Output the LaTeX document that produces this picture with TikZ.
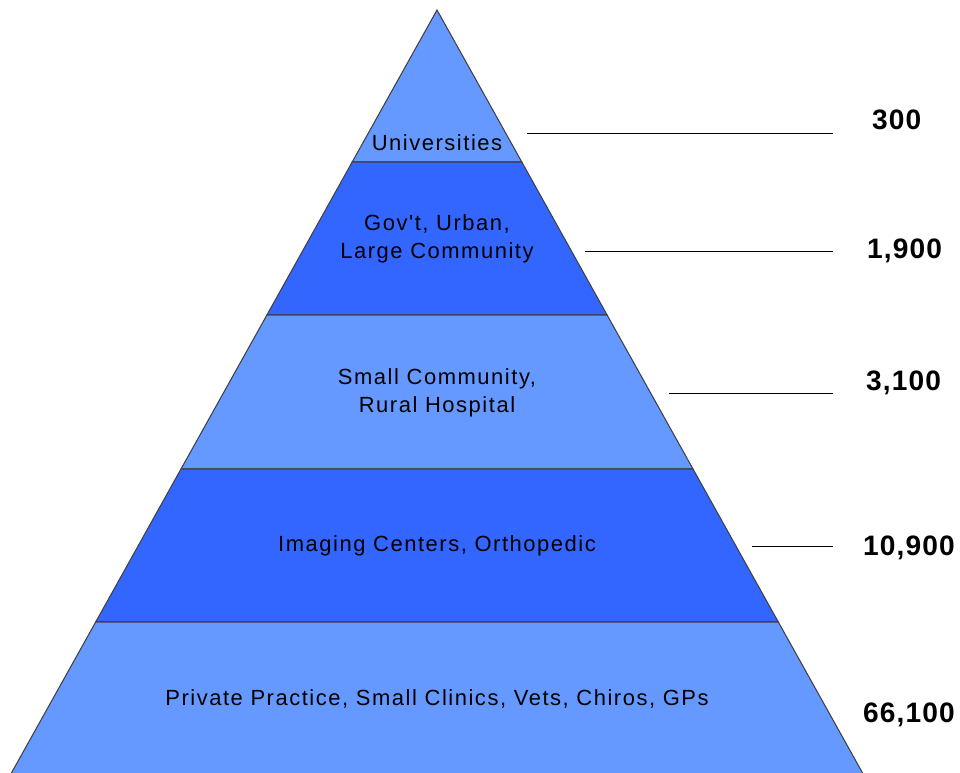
\documentclass[tikz,border=0pt]{standalone}
\usepackage{fontspec}
\setmainfont{Liberation Sans}
\newfontfamily\layerfont[LetterSpace=7]{Liberation Sans}
\newfontfamily\countfont[LetterSpace=4]{Liberation Sans}
\usepackage{tikz}
\definecolor{lightlayer}{HTML}{6699FF}
\definecolor{darklayer}{HTML}{3366FF}

\begin{document}
\begin{tikzpicture}[x=0.02cm, y=-0.02cm]
\tikzstyle{layer} = [draw=black!75, line width=0.6pt]
\tikzstyle{label} = [align=center, font=\layerfont\fontsize{12.5}{16}\selectfont]
\tikzstyle{count} = [anchor=west, font=\countfont\fontsize{16}{19}\selectfont\bfseries]
\tikzstyle{leader} = [draw, line width=0.5pt]

\useasboundingbox (0,0) rectangle (960,772);
\clip (0,0) rectangle (960,772);

    % the layers, from the top down
    \filldraw [layer, fill=lightlayer] (437,10) -- (521.8,162) -- (352.2,162) -- cycle;
    \filldraw [layer, fill=darklayer] (352.2,162) -- (521.8,162) -- (607.1,315) -- (266.9,315) -- cycle;
    \filldraw [layer, fill=lightlayer] (266.9,315) -- (607.1,315) -- (693,469) -- (181,469) -- cycle;
    \filldraw [layer, fill=darklayer] (181,469) -- (693,469) -- (778.3,622) -- (95.7,622) -- cycle;
    \filldraw [layer, fill=lightlayer] (95.7,622) -- (778.3,622) -- (866.5,780) -- (7.5,780) -- cycle;

    \node [label] (universities) at (437,143) {Universities};
    \node [label] (government) at (437,239) {Gov't, Urban,\\Large Community};
    \node [label] (community) at (437,393) {Small Community,\\Rural Hospital};
    \node [label] (imaging) at (437,546) {Imaging Centers, Orthopedic};
    \node [label] (practice) at (437,699) {Private Practice, Small Clinics, Vets, Chiros, GPs};

    \node [count] (n300) at (866,120) {300};
    \node [count] (n1900) at (861,251) {1,900};
    \node [count] (n3100) at (860,383) {3,100};
    \node [count] (n10900) at (857,548) {10,900};
    \node [count] (n66100) at (857,715) {66,100};

    % leader lines out to the counts
    \coordinate (a300) at (527,133);
    \coordinate (b300) at (833,133);
    \coordinate (a1900) at (585,251);
    \coordinate (b1900) at (833,251);
    \coordinate (a3100) at (669,393);
    \coordinate (b3100) at (833,393);
    \coordinate (a10900) at (752,546);
    \coordinate (b10900) at (833,546);
    \draw [leader] (a300) -- (b300);
    \draw [leader] (a1900) -- (b1900);
    \draw [leader] (a3100) -- (b3100);
    \draw [leader] (a10900) -- (b10900);

\end{tikzpicture}
\end{document}
